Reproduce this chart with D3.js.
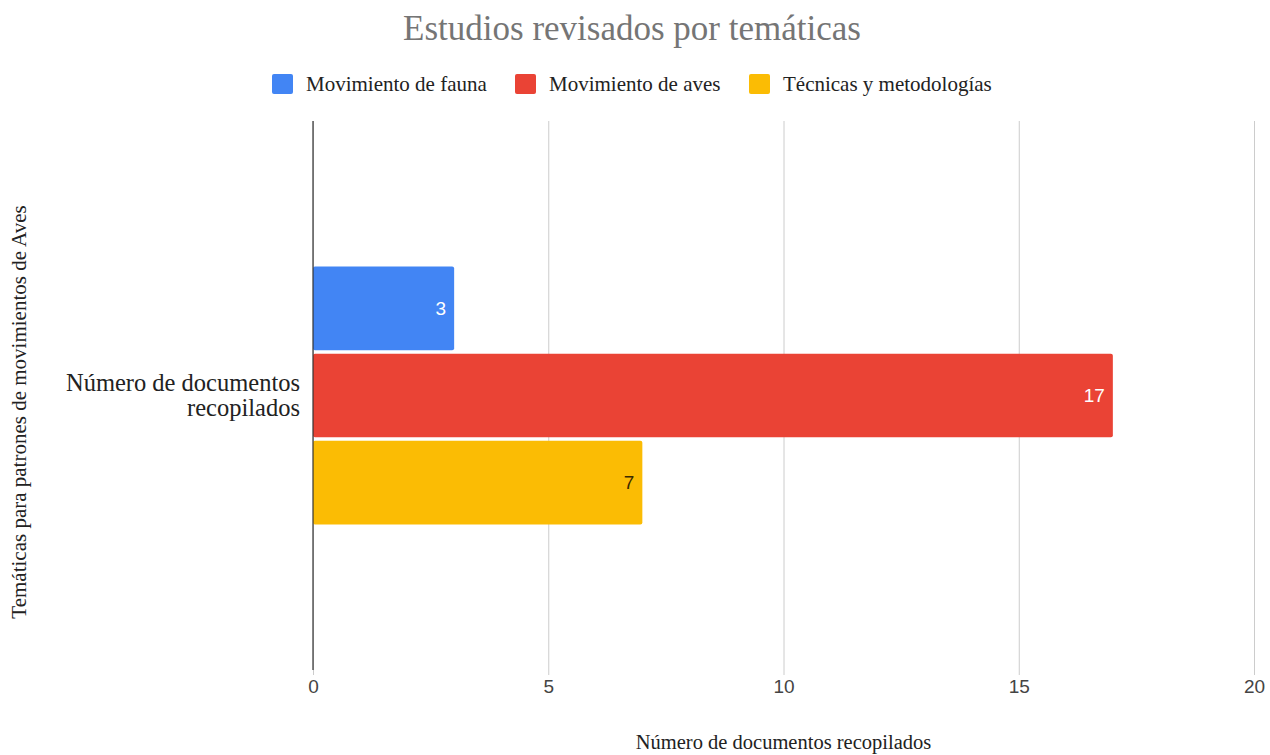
<!DOCTYPE html>
<html>
<head>
<meta charset="utf-8">
<script src="https://cdn.jsdelivr.net/npm/d3@7"></script>
<style>
  html, body { margin: 0; padding: 0; background: #fff; }
  svg { display: block; }
</style>
</head>
<body>
<svg id="chart" width="1270" height="755"></svg>
<script>
// Chart data
const categories = ["Número de documentos recopilados"];
const seriesNames = ["Movimiento de fauna", "Movimiento de aves", "Técnicas y metodologías"];
const seriesValues = [3, 17, 7];
const seriesColors = ["#4285f4", "#ea4335", "#fbbc04"];
const labelColors = ["#ffffff", "#ffffff", "#3a2a00"];
const xTicks = [0, 5, 10, 15, 20];

const svg = d3.select("#chart");
const margin = { top: 121, right: 16, bottom: 85, left: 313 };
const width = 1270, height = 755;
const plotW = width - margin.left - margin.right;
const plotH = height - margin.top - margin.bottom;

const serif = "'Liberation Serif', 'DejaVu Serif', serif";
const sans = "'Liberation Sans', Arial, sans-serif";

const x = d3.scaleLinear().domain([0, 20]).range([margin.left, margin.left + plotW]);
const y0 = d3.scaleBand().domain(categories).range([margin.top, margin.top + plotH]).paddingInner(0).paddingOuter(0.564);
const y1 = d3.scaleBand().domain(seriesNames).range([0, y0.bandwidth()]).paddingInner(0.04).paddingOuter(0);

// Title
svg.append("text")
  .attr("x", 632).attr("y", 40)
  .attr("text-anchor", "middle")
  .attr("font-family", serif).attr("font-size", 35)
  .attr("fill", "#757575")
  .text("Estudios revisados por temáticas");

// Legend
const legendX = [272, 515, 749];
const legend = svg.append("g");
seriesNames.forEach((name, i) => {
  const g = legend.append("g").attr("transform", `translate(${legendX[i]},74)`);
  g.append("rect").attr("width", 21).attr("height", 20).attr("rx", 2).attr("fill", seriesColors[i]);
  g.append("text").attr("x", 34).attr("y", 17)
    .attr("font-family", serif).attr("font-size", 21).attr("fill", "#222")
    .text(name);
});

// Gridlines and tick labels
const xAxis = d3.axisBottom(x).tickValues(xTicks).tickSize(-(plotH + 5)).tickPadding(5).tickFormat(d3.format("d"));
const gx = svg.append("g").attr("transform", `translate(0,${margin.top + plotH + 5})`).call(xAxis);
gx.select(".domain").remove();
gx.selectAll(".tick line").attr("stroke", "#cccccc").attr("stroke-width", 1);
gx.selectAll(".tick text")
  .attr("font-family", sans).attr("font-size", 19).attr("fill", "#444");

// Bars
const bars = svg.append("g");
categories.forEach(cat => {
  seriesNames.forEach((s, i) => {
    const v = seriesValues[i];
    const yy = y0(cat) + y1(s);
    bars.append("rect")
      .attr("x", x(0)).attr("y", yy)
      .attr("width", x(v) - x(0)).attr("height", y1.bandwidth())
      .attr("rx", 2)
      .attr("fill", seriesColors[i]);
    bars.append("text")
      .attr("x", x(v) - 8).attr("y", yy + y1.bandwidth() / 2)
      .attr("dy", "0.36em")
      .attr("text-anchor", "end")
      .attr("font-family", sans).attr("font-size", 19)
      .attr("fill", labelColors[i])
      .text(v);
  });
});

// Zero axis line
svg.append("line")
  .attr("x1", x(0)).attr("x2", x(0))
  .attr("y1", margin.top).attr("y2", margin.top + plotH)
  .attr("stroke", "#333").attr("stroke-width", 1.2);

// Category label
const catLabel = svg.append("text")
  .attr("text-anchor", "end")
  .attr("font-family", serif).attr("font-size", 24.5).attr("fill", "#222");
catLabel.append("tspan").attr("x", 300).attr("y", 391).text("Número de documentos");
catLabel.append("tspan").attr("x", 300).attr("y", 416).text("recopilados");

// Axis titles
svg.append("text")
  .attr("transform", `translate(26,${412}) rotate(-90)`)
  .attr("text-anchor", "middle")
  .attr("font-family", serif).attr("font-size", 21).attr("fill", "#222")
  .text("Temáticas para patrones de movimientos de Aves");

svg.append("text")
  .attr("x", x(10)).attr("y", 749)
  .attr("text-anchor", "middle")
  .attr("font-family", serif).attr("font-size", 20.5).attr("fill", "#222")
  .text("Número de documentos recopilados");
</script>
</body>
</html>
